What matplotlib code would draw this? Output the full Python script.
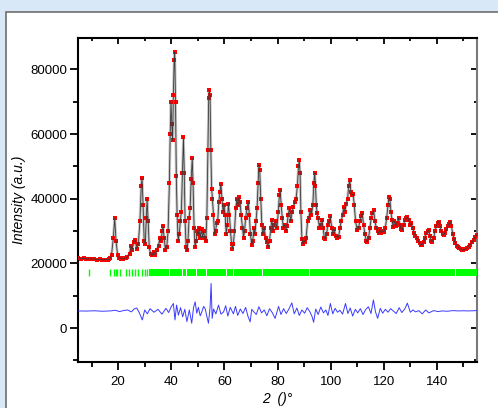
import numpy as np
import matplotlib
matplotlib.use('Agg')
import matplotlib.pyplot as plt
from matplotlib.patches import Rectangle

plt.rcParams['font.family'] = ['Liberation Sans', 'DejaVu Sans']

tth = [5, 6, 7, 8, 9, 10, 11, 12, 13, 14, 15, 16, 16.5, 17.0, 17.5, 18.2, 18.7, 19.2, 19.8,
       20.5, 21.0, 21.5, 22.0, 22.5, 23.0, 23.5,
       24.3, 24.8, 25.3, 25.8, 26.4, 27.0, 27.6, 28.2, 28.7, 29.0, 29.4, 29.8, 30.2, 30.6,
       30.9, 31.3, 31.7, 32.2, 32.8, 33.4, 34.0, 34.6, 35.2, 35.7, 36.2, 36.6, 36.9, 37.3,
       37.8, 38.3, 38.8, 39.3, 39.6, 39.9, 40.2, 40.5, 40.8, 41.1, 41.3, 41.6, 41.9, 42.2,
       42.6, 43.0, 43.4, 43.8, 44.2, 44.6, 44.9, 45.2, 45.6, 45.9, 46.3, 46.7, 47.1, 47.5,
       47.9, 48.2, 48.6, 49.0, 49.4, 49.8, 50.2, 50.6, 51.0, 51.4, 51.8, 52.2, 52.6, 53.0,
       53.4, 53.8, 54.1, 54.3, 54.6, 54.9, 55.2, 55.5, 55.9, 56.3, 56.7, 57.1, 57.5, 57.9,
       58.3, 58.7, 59.1, 59.5, 59.9, 60.3, 60.7, 61.1, 61.5, 61.9, 62.3, 62.7, 63.0, 63.4,
       63.8, 64.3, 64.7, 65.1, 65.5, 65.9, 66.3, 66.8, 67.2, 67.6, 68.0, 68.5, 69.0, 69.4,
       69.8, 70.3, 70.7, 71.1, 71.5, 71.9, 72.3, 72.7, 73.0, 73.3, 73.7, 74.1, 74.5, 75.0,
       75.5, 76.0, 76.5, 77.0, 77.5, 77.9, 78.3, 78.8, 79.3, 79.8, 80.3, 80.7, 81.0, 81.4,
       81.8, 82.2, 82.7, 83.1, 83.6, 84.0, 84.5, 85.0, 85.5, 86.0, 86.5, 87.0, 87.5, 87.9,
       88.2, 88.5, 88.8, 89.2, 89.6, 90.0, 90.4, 90.8, 91.3, 91.8, 92.3, 92.8, 93.3, 93.7,
       94.0, 94.3, 94.6, 94.9, 95.3, 95.8, 96.2, 96.7, 97.2, 97.6, 98.0, 98.5, 98.9, 99.4,
       99.9, 100.4, 100.9, 101.4, 101.9, 102.5, 103.0, 103.5, 104.0, 104.5, 104.9, 105.4,
       105.9, 106.4, 106.8, 107.2, 107.6, 108.0, 108.5, 108.9, 109.4, 110.0, 110.5, 111.0,
       111.5, 111.9, 112.4, 112.9, 113.4, 113.8, 114.3, 114.8, 115.3, 115.7, 116.2, 116.7,
       117.2, 117.7, 118.1, 118.6, 119.1, 119.6, 120.1, 120.6, 121.1, 121.6, 122.0, 122.3,
       122.7, 123.1, 123.5, 124.0, 124.5, 125.0, 125.6, 126.1, 126.6, 127.0, 127.5, 128.0,
       128.5, 128.9, 129.4, 129.9, 130.4, 130.9, 131.4, 131.9, 132.5, 133.0, 133.5, 134.0,
       134.5, 135.0, 135.5, 136.0, 136.5, 136.9, 137.4, 137.9, 138.3, 138.8, 139.3, 139.8,
       140.3, 140.7, 141.2, 141.7, 142.2, 142.6, 143.1, 143.6, 144.1, 144.6, 145.1, 145.5,
       146.0, 146.5, 147.0, 147.5, 148.0, 148.5, 149.0, 149.5, 150.0, 150.5, 151.0, 151.5,
       152.0, 152.6, 153.2, 153.8, 154.4, 155.0]
y_obs = [21700, 21500, 21600, 21400, 21500, 21300, 21400, 21200, 21300, 21100, 21200, 21100,
         21300, 21600, 22500, 28000, 34000, 27000, 22500,
         21800, 21500, 21600, 21400, 21700, 21600, 22000, 23000, 25500, 24000, 26500, 27200, 24500, 26000, 33000,
         44000, 46300, 38000, 27000, 26000, 34000, 40000, 33000, 25000, 23000, 22500, 23500,
         22500, 24000, 25500, 28000, 27000, 30000, 31500, 28000, 24000, 25000, 30000, 45000,
         60000, 70000, 63000, 58000, 72000, 83000, 85300, 70000, 47000, 35000, 27000, 29000,
         33000, 36000, 48000, 59000, 48000, 33000, 25000, 24000, 27000, 34000, 37000, 46000,
         52500, 45000, 31000, 25000, 27000, 30000, 29000, 31000, 28000, 30500, 28000, 30000,
         28000, 27000, 34000, 55000, 71000, 73600, 72000, 55000, 43000, 40000, 35000, 29000,
         30000, 32500, 33000, 39000, 42000, 44500, 40000, 36000, 38000, 35000, 29000, 32000,
         38500, 35000, 30000, 26000, 24500, 26000, 30000, 37000, 40000, 38000, 40500, 39000,
         35000, 31000, 28000, 30000, 34000, 37000, 39000, 35000, 29000, 25700, 27000, 31000,
         29000, 33000, 37000, 45000, 50400, 49000, 40000, 32000, 29000, 31000, 28000, 26500,
         25000, 27000, 31000, 33500, 30000, 32000, 33000, 31000, 36000, 41000, 42700, 38000,
         34000, 31000, 32000, 30000, 31500, 35000, 37000, 33000, 36000, 37500, 39000, 40000,
         44000, 50000, 52000, 48000, 36000, 27500, 26000, 27000, 26500, 28000, 33000, 34000,
         36500, 35000, 38000, 45000, 48000, 44000, 38000, 35500, 34000, 31000, 32000, 33500,
         31000, 28000, 27500, 29000, 32000, 33000, 34500, 31000, 29000, 30500, 28500, 28000,
         28200, 31000, 33000, 35000, 37500, 36000, 38500, 40000, 44000, 45800, 42000, 41000,
         41500, 38000, 33000, 30300, 31000, 33000, 34500, 35500, 32000, 29000, 27000, 26700,
         28000, 31000, 34000, 35500, 36500, 33000, 31000, 30000, 29300, 30500, 29500, 30000,
         29800, 31000, 34000, 38000, 40500, 40000, 36000, 33400, 31300, 33000, 31500, 32500,
         33900, 32000, 30500, 30300, 32000, 33500, 34000, 34400, 33500, 32000, 32400, 31000,
         29500, 28500, 27700, 27000, 26200, 25700, 25800, 26500, 28000, 29300, 30000, 30300,
         28500, 27000, 26700, 28000, 30000, 31500, 32500, 32900, 31500, 30000, 29000, 28800,
         29500, 30500, 31500, 32300, 32900, 31500, 29000, 27500, 26200, 25500, 25000, 24700,
         24400, 24200, 24100, 24300, 24600, 24800, 25200, 25700, 26500, 27300, 28200, 28800]

# difference curve (obs - calc, offset)
tth_diff = [5, 8, 11, 14, 17, 19, 20.5, 22, 23.5, 25, 26, 27, 28, 29.1, 30, 31, 32, 33.5,
            35, 36.5, 38, 39, 40, 40.8, 41.4, 42, 42.7, 43.5, 44.3, 45.1, 45.9, 46.8, 47.7,
            48.4, 49.0, 49.6, 50.2, 50.9, 51.5, 52.2, 52.8, 53.4, 54.0, 54.6, 55.0, 55.4,
            55.9, 56.8, 57.8, 58.7, 59.7, 60.5, 61.3, 62.2, 63.4, 64.2, 65.0, 66.0, 67.0,
            68.0, 68.9, 69.7, 70.3, 71.0, 72.0, 73.0, 74.0, 75.0, 76.0, 77.0, 78.0, 79.1,
            80.4, 81.3, 82.3, 83.3, 84.3, 85.4, 86.3, 87.3, 88.2, 89.2, 90.2, 91.2, 92.2,
            93.0, 93.6, 94.4, 95.3, 96.3, 97.3, 98.2, 99.0, 99.9, 100.8, 101.7, 102.6,
            103.5, 104.5, 105.6, 106.5, 107.4, 108.3, 109.3, 110.2, 111.2, 112.2, 113.2,
            114.2, 115.2, 116.1, 116.9, 117.7, 118.7, 119.6, 120.6, 121.6, 122.6, 123.7,
            124.7, 125.8, 126.8, 127.9, 128.9, 130.0, 131.0, 132.0, 133.2, 134.5, 135.8,
            137.0, 138.8, 140.5, 142.0, 144.0, 146.0, 148.0, 150.0, 152.0, 155.0]
y_diff = [5300, 5250, 5350, 5200, 5300, 5500, 5100, 5400, 5600, 5000, 5900, 6200, 4700, 2500,
          5600, 4400, 6000, 4900, 5800, 4300, 6100, 4800, 6600, 7600, 2500, 7100, 4000, 6300,
          3500, 5800, 2000, 5600, 1500, 6400, 8100, 4600, 6400, 3800, 5000, 6700, 5900, 3600,
          1500, 6200, 13800, 3000, 5900, 4400, 7100, 4300, 5000, 6900, 3700, 6400, 4400, 6700,
          3900, 5900, 4500, 6400, 3600, 1900, 5800, 5100, 4200, 6600, 4700, 5600, 3800, 6000,
          4800, 3000, 6700, 4200, 6000, 4500, 5900, 7800, 4400, 6200, 3900, 5600, 4600, 6300,
          5000, 3600, 1800, 5900, 4200, 6500, 4700, 5600, 3900, 7600, 4400, 6100, 4900, 5500,
          4300, 7600, 4500, 6200, 3700, 5800, 4700, 6000, 4200, 5700, 6600, 4500, 8700, 5000,
          3000, 6100, 4600, 5800, 4900, 6000, 5200, 4500, 6300, 4800, 5900, 7700, 4900, 5600,
          5000, 5400, 4400, 5600, 4700, 5400, 5100, 5300, 5200, 5400, 5300, 5350, 5300, 5400]

# Bragg reflection markers: isolated positions and dense stretches
bragg_pos = [9.2, 16.8, 18.3, 19.1, 19.7, 20.8, 23.1, 24.1, 25.2, 26.5, 27.5, 28.8,
             30.0, 31.0]
bragg_bands = [(31.6, 39.3), (39.6, 44.2), (44.6, 45.4), (45.8, 49.3), (49.6, 53.0),
               (53.3, 60.7), (61.0, 63.3), (63.6, 74.3), (74.7, 92.0), (92.3, 147.0),
               (147.3, 155.5)]
bragg_lo, bragg_hi = 16200, 18300

fig = plt.figure(figsize=(4.98, 4.08), dpi=100, facecolor='#d9e8f7')
# window panel behind the plot
panel = Rectangle((6/498, -0.01), 1, 1.01 - 12/408, transform=fig.transFigure,
                  facecolor='white', edgecolor='#6e6e6e', lw=1.2, zorder=-10)
fig.add_artist(panel)

ax = fig.add_axes([78.3/498, 1 - 361.7/408, (476.7 - 78.3)/498, (361.7 - 38.3)/408])
ax.set_facecolor('white')
ax.set_zorder(5)

ax.plot(tth, y_obs, color='#c4c4c4', lw=2.0, zorder=2)
ax.plot(tth, y_obs, 's', color='#ff0000', ms=2.8, mew=0, zorder=3)
ax.plot(tth, y_obs, color='#3a3a3a', lw=0.6, zorder=4)
ax.plot(tth_diff, y_diff, color='#3a3aff', lw=0.7, zorder=3)
ax.vlines(bragg_pos, bragg_lo, bragg_hi, color='#00ff00', lw=1.0, zorder=3)
ax.broken_barh([(a, b - a) for a, b in bragg_bands], (bragg_lo, bragg_hi - bragg_lo),
               facecolor='#00ff00', edgecolor='none', zorder=3)

ax.set_xlim(5, 155)
ax.set_ylim(-10400, 89600)
ax.set_xticks([20, 40, 60, 80, 100, 120, 140])
ax.set_xticks(np.arange(10, 151, 20), minor=True)
ax.set_yticks([0, 20000, 40000, 60000, 80000])
ax.set_yticks([-10000, 10000, 30000, 50000, 70000], minor=True)

ax.tick_params(axis='both', which='major', direction='out', length=6, width=1.3,
               labelsize=9.5, colors='black')
ax.tick_params(axis='both', which='minor', direction='out', length=3.5, width=1.3)
ax.tick_params(axis='x', pad=4)
ax.tick_params(axis='y', pad=2)

for s in ['left', 'bottom', 'top']:
    ax.spines[s].set_linewidth(1.5)
ax.spines['right'].set_color('#7a7a7a')
ax.spines['right'].set_linewidth(1.5)

# inward ticks on top and right
top = ax.secondary_xaxis('top')
top.set_xticks([20, 40, 60, 80, 100, 120, 140])
top.set_xticks(np.arange(10, 151, 20), minor=True)
top.tick_params(which='major', direction='in', length=4.5, width=1.3, labeltop=False)
top.tick_params(which='minor', direction='in', length=2.5, width=1.3)
top.spines['top'].set_visible(False)
right = ax.secondary_yaxis('right')
right.set_yticks([0, 20000, 40000, 60000, 80000])
right.set_yticks([-10000, 10000, 30000, 50000, 70000], minor=True)
right.tick_params(which='major', direction='in', length=4.5, width=1.3, labelright=False)
right.tick_params(which='minor', direction='in', length=2.5, width=1.3)
right.spines['right'].set_visible(False)

ax.set_ylabel('Intensity (a.u.)', fontsize=10, style='italic', labelpad=3)
fig.text(277.5/498, 1 - 399/408, '2  ()°', fontsize=10, style='italic', ha='center',
         va='center')

fig.savefig('out.png', dpi=100, facecolor=fig.get_facecolor())
